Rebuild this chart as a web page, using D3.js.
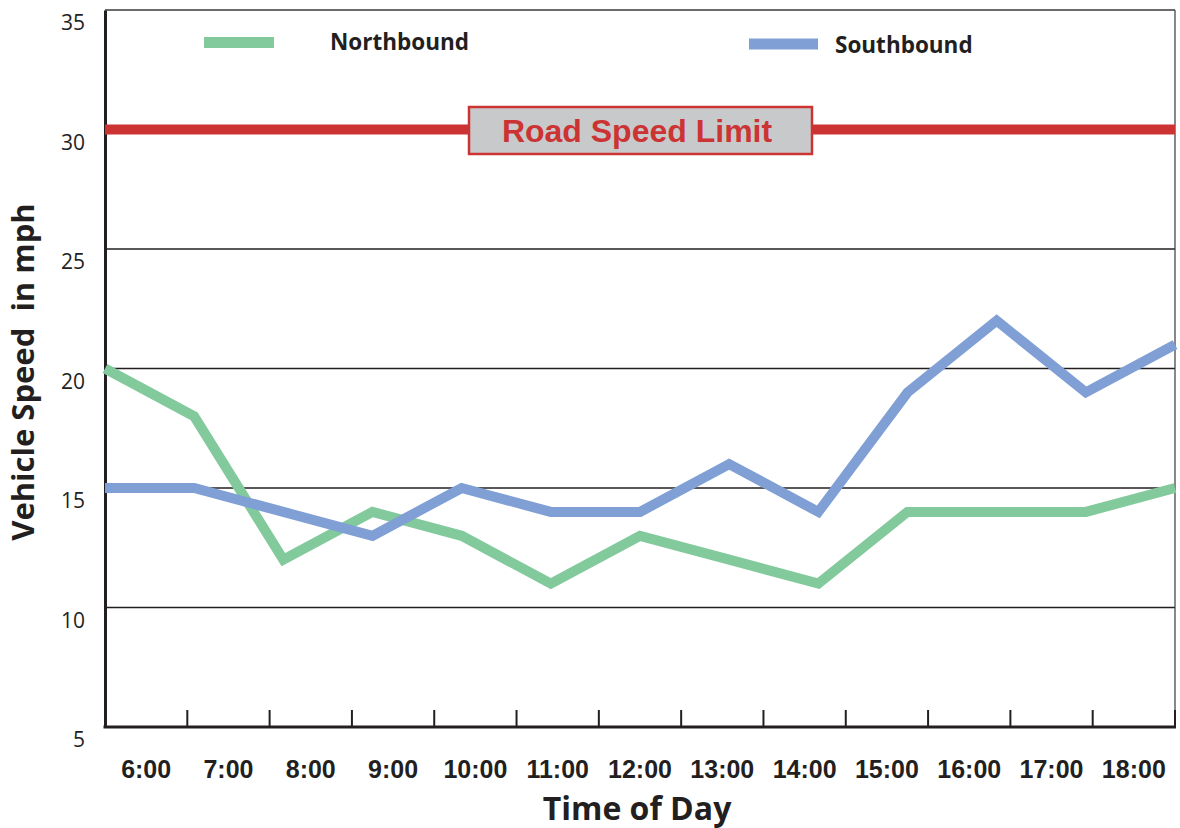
<!DOCTYPE html>
<html><head><meta charset="utf-8">
<script src="https://cdn.jsdelivr.net/npm/d3@7"></script>
<style>body{margin:0;background:#fff}svg{display:block}</style>
</head><body>
<script>
const times = ["6:00","7:00","8:00","9:00","10:00","11:00","12:00","13:00","14:00","15:00","16:00","17:00","18:00"];
const northbound = [20,18,12,14,13,11,13,12,11,14,14,14,15];
const southbound = [15,15,14,13,15,14,14,16,14,19,22,19,21];
const yTicks = [5,10,15,20,25,30,35];
const gridValues = [10,15,20,25];
const speedLimit = 30;
const seriesNames = ["Northbound","Southbound"];

const W=1180,H=828;
const svg=d3.select("body").append("svg").attr("width",W).attr("height",H);
const L=105,R=1175,T=10,B=727;
const y=d3.scaleLinear().domain([5,35]).range([B,T]);
const xBand=d3.scaleBand().domain(times).range([L,R]);
const xPt=d3.scalePoint().domain(times).range([L,R]);
const ink="#231f20";
const green="#82c99b", blue="#7f9fd5", red="#cc3433";

// grid
svg.append("g").selectAll("line").data(gridValues).join("line")
 .attr("x1",L).attr("x2",R).attr("y1",d=>y(d)).attr("y2",d=>y(d))
 .attr("stroke",ink).attr("stroke-width",1.6);
// top border
svg.append("line").attr("x1",L).attr("x2",R).attr("y1",y(35)).attr("y2",y(35)).attr("stroke","#3a3a3a").attr("stroke-width",1.4);
// right border
svg.append("line").attr("x1",R).attr("x2",R).attr("y1",T).attr("y2",B).attr("stroke","#3a3a3a").attr("stroke-width",1.2);

// y axis
const yAxis=svg.append("g").attr("transform",`translate(${L},0)`)
 .call(d3.axisLeft(y).tickValues(yTicks).tickSize(0).tickPadding(20));
yAxis.select(".domain").attr("stroke",ink).attr("stroke-width",3);
yAxis.selectAll("text").attr("font-family","'Open Sans', sans-serif").attr("font-size",21).attr("fill",ink).attr("dy","0.95em");

// x axis: band boundaries as ticks
const bounds=times.map(t=>xBand(t)).concat([R]);
const xg=svg.append("g");
xg.append("line").attr("x1",L-1.5).attr("x2",R+1).attr("y1",B).attr("y2",B).attr("stroke",ink).attr("stroke-width",3);
xg.selectAll("line.tk").data(bounds.slice(1)).join("line").attr("class","tk")
 .attr("x1",d=>d).attr("x2",d=>d).attr("y1",B).attr("y2",B-17).attr("stroke",ink).attr("stroke-width",2);
xg.selectAll("text").data(times).join("text")
 .attr("x",d=>xBand(d)+xBand.bandwidth()/2).attr("y",778)
 .attr("text-anchor","middle").attr("font-family","'Liberation Sans', Arial, sans-serif")
 .attr("font-weight","bold").attr("font-size",25).attr("fill",ink).text(d=>d);

// speed limit line
svg.append("line").attr("x1",L).attr("x2",R).attr("y1",y(speedLimit)).attr("y2",y(speedLimit))
 .attr("stroke",red).attr("stroke-width",10);
svg.append("rect").attr("x",469).attr("y",107).attr("width",343).attr("height",47)
 .attr("fill","#c8c9cb").attr("stroke",red).attr("stroke-width",2.5);
svg.append("text").attr("x",637).attr("y",142).attr("text-anchor","middle")
 .attr("font-family","'Liberation Sans', Arial, sans-serif").attr("font-weight","bold")
 .attr("font-size",32).attr("fill",red).text("Road Speed Limit");

// series lines
const line=d3.line().x((d,i)=>xPt(times[i])).y(d=>y(d));
[[northbound,green],[southbound,blue]].forEach(([vals,c])=>{
  svg.append("path").datum(vals).attr("d",line).attr("fill","none")
   .attr("stroke",c).attr("stroke-width",10).attr("stroke-linejoin","miter").attr("stroke-linecap","butt");
});

// legend
const leg=[{name:seriesNames[0],c:green,x1:204,x2:274,ly:42.5,tx:330,ty:50},
           {name:seriesNames[1],c:blue,x1:749,x2:818,ly:44,tx:835,ty:53}];
leg.forEach(d=>{
  svg.append("line").attr("x1",d.x1).attr("x2",d.x2).attr("y1",d.ly).attr("y2",d.ly).attr("stroke",d.c).attr("stroke-width",11);
  svg.append("text").attr("x",d.tx).attr("y",d.ty).attr("font-family","'Open Sans', sans-serif")
   .attr("font-weight","bold").attr("font-size",22.5).attr("fill",ink).text(d.name);
});

// axis titles
svg.append("text").attr("x",637).attr("y",820).attr("text-anchor","middle")
 .attr("font-family","'Open Sans', sans-serif").attr("font-weight","bold").attr("font-size",32).attr("fill",ink).text("Time of Day");
svg.append("text").attr("transform","translate(34,372) rotate(-90)").attr("text-anchor","middle")
 .style("white-space","pre")
 .attr("font-family","'Open Sans', sans-serif").attr("font-weight","bold").attr("font-size",31).attr("fill",ink).text("Vehicle Speed  in mph");
</script>
</body></html>
